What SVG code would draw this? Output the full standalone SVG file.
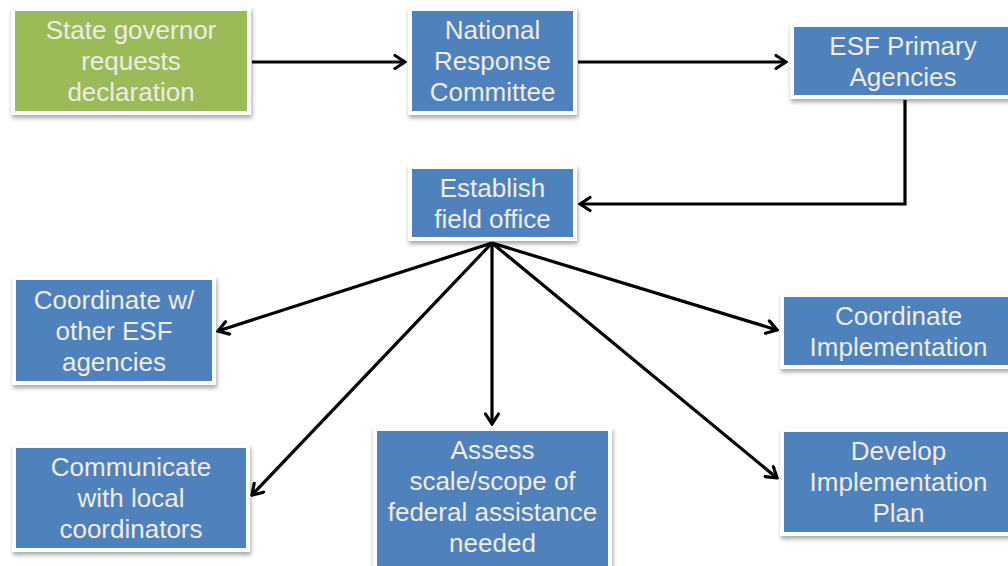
<svg xmlns="http://www.w3.org/2000/svg" width="1008" height="566" viewBox="0 0 1008 566">
<defs>
<style>
.box{stroke:#ffffff;stroke-width:4;filter:url(#sh)}
.blue{fill:#4F81BD}
.green{fill:#9BBB59}
.t{font-family:"Liberation Sans",Arial,sans-serif;font-size:26px;fill:#EEECE1;text-anchor:middle}
.c{fill:none;stroke:#000;stroke-width:3.2}
</style>
<filter id="sh" x="-10%" y="-10%" width="125%" height="130%">
<feDropShadow dx="1" dy="3" stdDeviation="2" flood-color="#000" flood-opacity="0.35"/>
</filter>
<marker id="ah" markerUnits="userSpaceOnUse" viewBox="0 0 14 16" refX="12" refY="8" markerWidth="14" markerHeight="16" orient="auto">
<path d="M2,1.5 L12,8 L2,14.5" fill="none" stroke="#000" stroke-width="3.2" stroke-linecap="round" stroke-linejoin="miter"/>
</marker>
</defs>
<rect width="1008" height="566" fill="#ffffff"/>
<g id="connectors">
<line class="c" x1="252" y1="62" x2="405" y2="62" marker-end="url(#ah)"/>
<line class="c" x1="578" y1="62" x2="786" y2="62" marker-end="url(#ah)"/>
<polyline class="c" points="905,100 905,204 580,204" marker-end="url(#ah)"/>
<line class="c" x1="492" y1="243" x2="218" y2="331" marker-end="url(#ah)"/>
<line class="c" x1="492" y1="243" x2="252" y2="495" marker-end="url(#ah)"/>
<line class="c" x1="492" y1="243" x2="492" y2="424" marker-end="url(#ah)"/>
<line class="c" x1="492" y1="243" x2="777" y2="330" marker-end="url(#ah)"/>
<line class="c" x1="492" y1="243" x2="777" y2="478" marker-end="url(#ah)"/>
</g>
<g id="n-governor">
<rect class="box green" x="13" y="9" width="236" height="104"/>
<text class="t" x="131" y="39">State governor</text>
<text class="t" x="131" y="70">requests</text>
<text class="t" x="131" y="101">declaration</text>
</g>
<g id="n-nrc">
<rect class="box blue" x="410" y="9" width="165" height="104"/>
<text class="t" x="492.5" y="38.5">National</text>
<text class="t" x="492.5" y="69.5">Response</text>
<text class="t" x="492.5" y="100.5">Committee</text>
</g>
<g id="n-esf">
<rect class="box blue" x="792" y="25" width="222" height="72"/>
<text class="t" x="903" y="54.5">ESF Primary</text>
<text class="t" x="903" y="85.5">Agencies</text>
</g>
<g id="n-field">
<rect class="box blue" x="410" y="167" width="165" height="72"/>
<text class="t" x="492.5" y="196.5">Establish</text>
<text class="t" x="492.5" y="227.5">field office</text>
</g>
<g id="n-coord-esf">
<rect class="box blue" x="14" y="278" width="200" height="105"/>
<text class="t" x="114" y="308.5">Coordinate w/</text>
<text class="t" x="114" y="339.5">other ESF</text>
<text class="t" x="114" y="370.5">agencies</text>
</g>
<g id="n-coord-impl">
<rect class="box blue" x="782" y="295" width="232" height="72"/>
<text class="t" x="898.5" y="324.5">Coordinate</text>
<text class="t" x="898.5" y="355.5">Implementation</text>
</g>
<g id="n-communicate">
<rect class="box blue" x="14" y="446" width="234" height="104"/>
<text class="t" x="131" y="476">Communicate</text>
<text class="t" x="131" y="507">with local</text>
<text class="t" x="131" y="538">coordinators</text>
</g>
<g id="n-assess">
<rect class="box blue" x="375" y="429" width="235" height="142"/>
<text class="t" x="492.5" y="459">Assess</text>
<text class="t" x="492.5" y="490">scale/scope of</text>
<text class="t" x="492.5" y="521">federal assistance</text>
<text class="t" x="492.5" y="552">needed</text>
</g>
<g id="n-develop">
<rect class="box blue" x="782" y="430" width="232" height="104"/>
<text class="t" x="898.5" y="460">Develop</text>
<text class="t" x="898.5" y="491">Implementation</text>
<text class="t" x="898.5" y="522">Plan</text>
</g>
</svg>
